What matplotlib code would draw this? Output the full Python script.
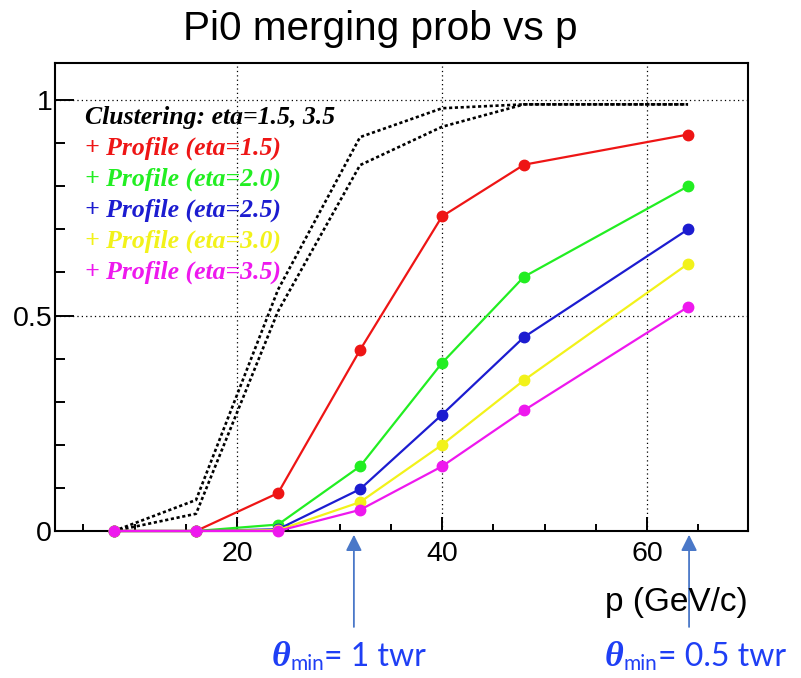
import matplotlib.pyplot as plt
from matplotlib.ticker import MultipleLocator, FuncFormatter

# momentum points (GeV/c)
p = [8, 16, 24, 32, 40, 48, 64]

# clustering curves (black dotted)
clus_eta15 = [0.0, 0.072, 0.56, 0.914, 0.981, 0.99, 0.99]
clus_eta35 = [0.0, 0.040, 0.51, 0.849, 0.938, 0.99, 0.99]

# profile curves
prof_eta15 = [0.0, 0.0, 0.088, 0.42, 0.73, 0.85, 0.92]
prof_eta20 = [0.0, 0.0, 0.015, 0.15, 0.39, 0.59, 0.80]
prof_eta25 = [0.0, 0.0, 0.004, 0.097, 0.27, 0.45, 0.70]
prof_eta30 = [0.0, 0.0, 0.002, 0.067, 0.20, 0.35, 0.62]
prof_eta35 = [0.0, 0.0, 0.0, 0.049, 0.15, 0.28, 0.52]

legend_labels = ['Clustering: eta=1.5, 3.5',
                 '+ Profile (eta=1.5)', '+ Profile (eta=2.0)',
                 '+ Profile (eta=2.5)', '+ Profile (eta=3.0)',
                 '+ Profile (eta=3.5)']
colors = ['#ee1515', '#22ee22', '#1c1cd0', '#f2f21a', '#ee18ee']

arrow_p = [31.4, 64.1]
arrow_labels = ['1 twr', '0.5 twr']

W, H = 801, 678
fig = plt.figure(figsize=(W / 100, H / 100), dpi=100)
ax = fig.add_axes([55 / W, 147 / H, 693 / W, 468 / H])

ax.grid(True, which='major', color='black', lw=0.9, linestyle=(0, (1, 2.5)))
ax.set_axisbelow(True)

for vals in [clus_eta15, clus_eta35]:
    ax.plot(p, vals, color='black', lw=1.9, linestyle=(0, (1.2, 1.0)), clip_on=False, zorder=2)

profiles = [prof_eta15, prof_eta20, prof_eta25, prof_eta30, prof_eta35]
for vals, c in zip(profiles, colors):
    ax.plot(p, vals, color=c, lw=1.6, marker='o', ms=7.5, clip_on=False, zorder=3)

ax.set_xlim(2.24, 69.85)
ax.set_ylim(0, 1.086)
ax.xaxis.set_major_locator(MultipleLocator(20))
ax.xaxis.set_minor_locator(MultipleLocator(5))
ax.yaxis.set_major_locator(MultipleLocator(0.5))
ax.yaxis.set_minor_locator(MultipleLocator(0.1))
ax.yaxis.set_major_formatter(FuncFormatter(lambda v, pos: '%g' % v))
ax.tick_params(axis='both', which='both', direction='in', width=1.4, top=False, right=False)
ax.tick_params(axis='y', which='major', length=14, pad=2)
ax.tick_params(axis='y', which='minor', length=7)
ax.tick_params(axis='x', which='major', length=10, pad=7)
ax.tick_params(axis='x', which='minor', length=5)
for lab in ax.get_xticklabels() + ax.get_yticklabels():
    lab.set_fontfamily('Liberation Sans')
    lab.set_fontsize(20.5)
for s in ax.spines.values():
    s.set_linewidth(1.5)

# legend-like text block
for i, lab in enumerate(legend_labels):
    c = 'black' if i == 0 else colors[i - 1]
    ax.text(0.0433, 0.8846 - i * 0.0665, lab, transform=ax.transAxes, color=c,
            family='Liberation Serif', weight='bold', style='italic',
            fontsize=18.5, va='center', ha='left')

fig.text(380 / W, 1 - 40 / H, 'Pi0 merging prob vs p', ha='center', va='baseline',
         family='Liberation Sans', fontsize=29.2)
fig.text(748 / W, 1 - 611 / H, 'p (GeV/c)', ha='right', va='baseline',
         family='Liberation Sans', fontsize=24)

# arrows below the axis
for xp in arrow_p:
    ax.annotate('', xy=(xp, -0.008), xycoords=('data', 'axes fraction'),
                xytext=(xp, -0.205), textcoords=('data', 'axes fraction'),
                arrowprops=dict(arrowstyle='-|>', color='#4a78c8', lw=1.3,
                                mutation_scale=24, shrinkA=0, shrinkB=0),
                annotation_clip=False)

renderer = fig.canvas.get_renderer()
blue = '#1f3ff5'


def theta_label(x_px, base_px, rest):
    x = x_px
    pieces = [('\u03b8', dict(family='Liberation Serif', weight='bold', style='italic', fontsize=26), 0),
              ('min', dict(family='Lato', fontsize=15), 4),
              ('= ' + rest, dict(family='Lato', fontsize=23), 0)]
    for s, kw, dy in pieces:
        t = fig.text(x / W, 1 - (base_px + dy) / H, s, ha='left', va='baseline', color=blue, **kw)
        x = t.get_window_extent(renderer).x1


theta_label(272, 666, arrow_labels[0])
theta_label(605, 666, arrow_labels[1])

fig.savefig('out.png', dpi=100)
